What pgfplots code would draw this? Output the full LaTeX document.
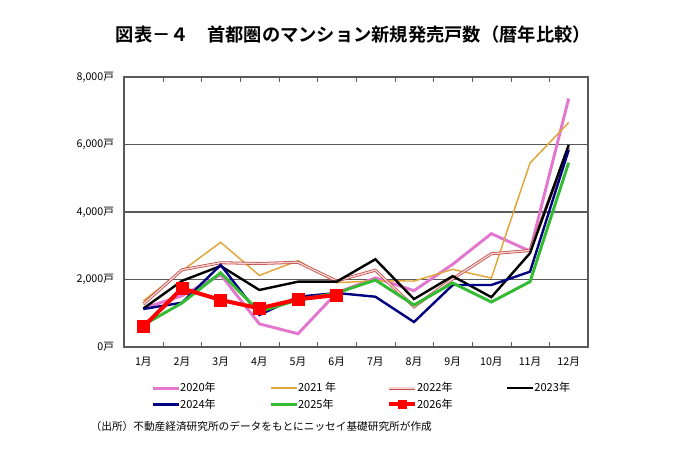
\documentclass[border=0pt]{standalone}
\usepackage{pgfplots}
\pgfplotsset{compat=1.18}
\usepackage{fontspec}
\setmainfont{Noto Sans CJK JP}
\newfontfamily\titlefont{Noto Sans CJK JP}[BoldFont={Noto Sans CJK JP Bold}]
\definecolor{c2020}{HTML}{E377CF}
\definecolor{c2021}{HTML}{E0A63A}
\definecolor{c2022}{HTML}{C0504D}
\definecolor{c2022in}{HTML}{F6D2D0}
\definecolor{c2024}{HTML}{000080}
\definecolor{c2025}{HTML}{33BB33}
\definecolor{c2026}{HTML}{FF0000}
\begin{document}
\begin{tikzpicture}
\path[use as bounding box] (0pt,0pt) rectangle (510pt,339.75pt);
\node[font=\titlefont\bfseries\fontsize{13.7}{15}\selectfont] at (265pt,313.5pt) {図表－４　首都圏のマンション新規発売戸数（暦年比較）};
\begin{axis}[
  at={(93pt,79.5pt)}, anchor=south west,
  scale only axis, width=348pt, height=202.5pt,
  xmin=0.5, xmax=12.5, ymin=0, ymax=8000,
  xtick={1,...,12},
  xticklabels={1月,2月,3月,4月,5月,6月,7月,8月,9月,10月,11月,12月},
  major x tick style={draw=none},
  minor xtick={1.5,2.5,...,11.5},
  minor x tick style={gray!70!black},
  minor tick length=4pt,
  tick align=inside,
  ytick={0,2000,4000,6000,8000},
  yticklabels={{0戸},{2,000戸},{4,000戸},{6,000戸},{8,000戸}},
  major y tick style={draw=none},
  ymajorgrids, grid style={gray!70!black, line width=0.8pt},
  axis line style={gray!70!black, line width=0.8pt},
  tick label style={font=\fontsize{8}{9}\selectfont},
  xticklabel style={yshift=-4pt},
  yticklabel style={xshift=-4pt},
  legend columns=4,
  legend style={at={(0.058,-0.13)}, anchor=north west, draw=none, fill=none,
    inner sep=0pt, column sep=0pt, row sep=3.8pt,
    font=\fontsize{8.3}{9}\selectfont,
    nodes={inner sep=0pt}},
  legend cell align=left,
  legend image code/.code={\draw[mark repeat=2,mark phase=2,#1] plot coordinates {(0pt,0pt) (9.75pt,0pt) (19.5pt,0pt)};},
]
\addplot[c2020, line width=2.2pt] coordinates {(1,1143)(2,1520)(3,2142)(4,686)(5,393)(6,1603)(7,2049)(8,1669)(9,2451)(10,3358)(11,2841)(12,7362)};
\addlegendentry{\makebox[66.75pt][l]{2020年}}
\addplot[c2021, line width=1.1pt] coordinates {(1,1367)(2,2256)(3,3102)(4,2121)(5,2557)(6,1906)(7,1960)(8,1955)(9,2301)(10,2043)(11,5450)(12,6650)};
\addlegendentry{\makebox[66.75pt][l]{2021 年}}
\addplot[draw=c2022, line width=0.6pt, double=c2022in, double distance=1pt] coordinates {(1,1271)(2,2287)(3,2497)(4,2474)(5,2510)(6,1956)(7,2276)(8,1190)(9,2020)(10,2763)(11,2859)(12,5900)};
\addlegendentry{\makebox[66.75pt][l]{2022年}}
\addplot[black, line width=1.8pt] coordinates {(1,1140)(2,1960)(3,2400)(4,1690)(5,1935)(6,1935)(7,2600)(8,1420)(9,2100)(10,1476)(11,2780)(12,5985)};
\addlegendentry{\makebox[66.75pt][l]{2023年}}
\addplot[c2024, line width=1.8pt] coordinates {(1,1126)(2,1313)(3,2430)(4,948)(5,1490)(6,1600)(7,1490)(8,740)(9,1837)(10,1837)(11,2232)(12,5837)};
\addlegendentry{\makebox[66.75pt][l]{2024年}}
\addplot[c2025, line width=2.2pt] coordinates {(1,652)(2,1304)(3,2200)(4,1047)(5,1393)(6,1600)(7,1985)(8,1244)(9,1896)(10,1333)(11,1935)(12,5461)};
\addlegendentry{\makebox[66.75pt][l]{2025年}}
\addplot[c2026, line width=3pt, mark=square*, mark size=4.5pt, mark options={line width=0.5pt}, legend image post style={mark size=3pt}] coordinates {(1,602)(2,1738)(3,1393)(4,1146)(5,1412)(6,1541)};
\addlegendentry{\makebox[66.75pt][l]{2026年}}
\end{axis}
\node[anchor=west, font=\fontsize{8}{9}\selectfont] at (64.5pt,20.25pt) {（出所）不動産経済研究所のデータをもとにニッセイ基礎研究所が作成};
\end{tikzpicture}
\end{document}
